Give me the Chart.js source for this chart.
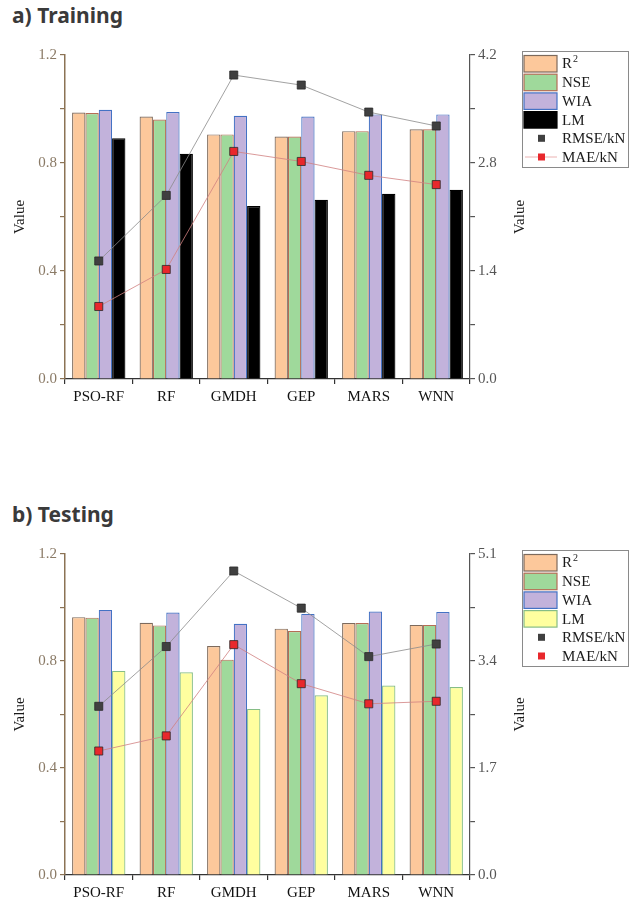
<!DOCTYPE html>
<html>
<head>
<meta charset="utf-8">
<script src="https://cdn.jsdelivr.net/npm/chart.js@4.4.1/dist/chart.umd.min.js"></script>
<style>
  body { margin: 0; background: #fff; width: 639px; height: 901px; position: relative; overflow: hidden; }
  .title { position: absolute; left: 12px; font-family: "Noto Sans", "Open Sans", sans-serif; font-weight: bold; font-size: 21px; color: #3a3a3a; line-height: 28px; }
  .panel { position: absolute; left: 0; }
</style>
</head>
<body>
<div class="title" style="top:1px">a) Training</div>
<div class="panel" style="top:40px"><canvas id="chartA" width="639" height="372"></canvas></div>
<div class="title" style="top:500px">b) Testing</div>
<div class="panel" style="top:540px"><canvas id="chartB" width="639" height="361"></canvas></div>

<script>
// categories
const models = ['PSO-RF', 'RF', 'GMDH', 'GEP', 'MARS', 'WNN'];
const seriesLabels = ['R²', 'NSE', 'WIA', 'LM', 'RMSE/kN', 'MAE/kN'];

// a) training
const trainR2   = [0.987, 0.972, 0.906, 0.898, 0.918, 0.925];
const trainNSE  = [0.985, 0.961, 0.906, 0.898, 0.918, 0.925];
const trainWIA  = [0.997, 0.989, 0.975, 0.972, 0.980, 0.980];
const trainLM   = [0.892, 0.834, 0.641, 0.664, 0.686, 0.701];
const trainRMSE = [1.53, 2.38, 3.94, 3.81, 3.46, 3.28];
const trainMAE  = [0.94, 1.42, 2.95, 2.82, 2.64, 2.52];

// b) testing
const testR2   = [0.964, 0.943, 0.856, 0.921, 0.942, 0.935];
const testNSE  = [0.962, 0.933, 0.805, 0.912, 0.942, 0.935];
const testWIA  = [0.991, 0.981, 0.939, 0.976, 0.985, 0.983];
const testLM   = [0.763, 0.758, 0.621, 0.672, 0.708, 0.703];
const testRMSE = [2.68, 3.63, 4.83, 4.24, 3.47, 3.67];
const testMAE  = [1.97, 2.21, 3.66, 3.04, 2.72, 2.76];

// axis ranges
const leftMax = 1.2;
const trainRightMax = 4.2;
const testRightMax = 5.1;

const SERIF = '"Liberation Serif", "Times New Roman", serif';

function barSet(label, data, bg, border) {
    return {
        type: 'bar', label: label, data: data,
        backgroundColor: bg, borderColor: border, borderWidth: 1.2,
        yAxisID: 'y', order: 2,
        categoryPercentage: 0.79, barPercentage: 1.0
    };
}

function lineSet(label, data, fill, line) {
    return {
        type: 'line', label: label, data: data,
        yAxisID: 'y1', order: 1,
        borderColor: line, borderWidth: 0.8, fill: false, tension: 0,
        pointStyle: 'rect', pointRadius: 5.7,
        pointBackgroundColor: fill, pointBorderColor: '#2a2a2a', pointBorderWidth: 0.8
    };
}

// legend box + axis titles, drawn by hand to match the figure
const extras = {
    id: 'extras',
    afterDraw(chart, args, opts) {
        const ctx = chart.ctx;
        const area = chart.chartArea;
        const midY = (area.top + area.bottom) / 2;

        ctx.save();
        ctx.font = '15px ' + SERIF;
        ctx.fillStyle = '#1a1a1a';
        ctx.textAlign = 'center';
        ctx.textBaseline = 'middle';
        [opts.leftTitleX, opts.rightTitleX].forEach(x => {
            ctx.save();
            ctx.translate(x, midY);
            ctx.rotate(-Math.PI / 2);
            ctx.fillText('Value', 0, 0);
            ctx.restore();
        });
        ctx.restore();

        // legend
        const bx = 522, by = opts.legendTop, bw = 106, bh = 116;
        ctx.save();
        ctx.strokeStyle = '#8a8a8a';
        ctx.lineWidth = 1;
        ctx.strokeRect(bx + 0.5, by + 0.5, bw, bh);
        chart.data.datasets.forEach((ds, i) => {
            const cy = by + 12.5 + i * 18.7;
            if (ds.type === 'bar') {
                ctx.fillStyle = ds.backgroundColor;
                ctx.fillRect(bx + 2, cy - 8, 33, 16.5);
                ctx.strokeStyle = ds.borderColor;
                ctx.lineWidth = 1.2;
                ctx.strokeRect(bx + 2, cy - 8, 33, 16.5);
            } else {
                if (opts.legendLine && ds.label === 'MAE/kN') {
                    ctx.strokeStyle = '#e6a0a0';
                    ctx.lineWidth = 0.8;
                    ctx.beginPath();
                    ctx.moveTo(bx + 3, cy);
                    ctx.lineTo(bx + 35, cy);
                    ctx.stroke();
                }
                ctx.fillStyle = ds.pointBackgroundColor;
                ctx.fillRect(bx + 16, cy - 3.5, 7, 7);
            }
            ctx.fillStyle = '#1a1a1a';
            ctx.textAlign = 'left';
            ctx.textBaseline = 'middle';
            ctx.font = '15px ' + SERIF;
            const tx = bx + 40;
            if (ds.label === 'R²') {
                ctx.fillText('R', tx, cy + 1);
                const w = ctx.measureText('R').width;
                ctx.font = '10px ' + SERIF;
                ctx.fillText('2', tx + w + 1, cy - 4);
            } else {
                ctx.fillText(ds.label, tx, cy + 1);
            }
        });
        ctx.restore();
    }
};

function makeChart(id, d, o) {
    const datasets = [
        barSet(seriesLabels[0], d.r2, '#fcc89b', '#7d6a5c'),
        barSet(seriesLabels[1], d.nse, '#9fd99b', '#b56d55'),
        barSet(seriesLabels[2], d.wia, '#c2b2db', '#4472c4'),
        barSet(seriesLabels[3], d.lm, o.lmFill, o.lmBorder),
        lineSet(seriesLabels[4], d.rmse, '#404040', '#8a8a8a'),
        lineSet(seriesLabels[5], d.mae, '#e8282c', '#d08080')
    ];
    const rightStep = o.rightMax / 6;
    return new Chart(document.getElementById(id), {
        data: { labels: models, datasets: datasets },
        plugins: [extras],
        options: {
            responsive: false,
            animation: false,
            layout: { padding: { left: 0, top: o.top, right: 639 - 470 - 40, bottom: 0 } },
            scales: {
                x: {
                    type: 'category',
                    offset: true,
                    afterFit: s => { s.height = o.xHeight; },
                    grid: { offset: true, drawOnChartArea: false, drawTicks: true, tickLength: 5, color: '#333', lineWidth: 1.2 },
                    border: { color: '#333', width: 1.2 },
                    ticks: { color: '#111', font: { family: SERIF, size: 15 }, padding: 4, maxRotation: 0 }
                },
                y: {
                    position: 'left',
                    min: 0, max: leftMax,
                    afterFit: s => { s.width = 65; },
                    grid: { drawOnChartArea: false, tickLength: 5, color: '#8b7355', lineWidth: 1.2 },
                    border: { color: '#8b7355', width: 1.5 },
                    ticks: {
                        stepSize: 0.2, color: '#8a7a66', padding: 3,
                        font: { family: SERIF, size: 15 },
                        callback: (v, i) => i % 2 === 0 ? v.toFixed(1) : ''
                    }
                },
                y1: {
                    position: 'right',
                    min: 0, max: o.rightMax,
                    afterFit: s => { s.width = 40; },
                    grid: { drawOnChartArea: false, tickLength: 5, color: '#555', lineWidth: 1.2 },
                    border: { color: '#555', width: 1.2 },
                    ticks: {
                        stepSize: rightStep, color: '#555', padding: 3,
                        font: { family: SERIF, size: 15 },
                        callback: (v, i) => i % 2 === 0 ? v.toFixed(1) : ''
                    }
                }
            },
            plugins: {
                legend: { display: false },
                tooltip: { enabled: false },
                extras: o.extras
            }
        }
    });
}

makeChart('chartA',
    { r2: trainR2, nse: trainNSE, wia: trainWIA, lm: trainLM, rmse: trainRMSE, mae: trainMAE },
    { rightMax: trainRightMax, top: 15, xHeight: 33, lmFill: '#000000', lmBorder: '#000000',
      extras: { leftTitleX: 20, rightTitleX: 520, legendTop: 11, legendLine: true } });

makeChart('chartB',
    { r2: testR2, nse: testNSE, wia: testWIA, lm: testLM, rmse: testRMSE, mae: testMAE },
    { rightMax: testRightMax, top: 14, xHeight: 26, lmFill: '#ffff9f', lmBorder: '#86bd86',
      extras: { leftTitleX: 20, rightTitleX: 520, legendTop: 10, legendLine: false } });
</script>
</body>
</html>
